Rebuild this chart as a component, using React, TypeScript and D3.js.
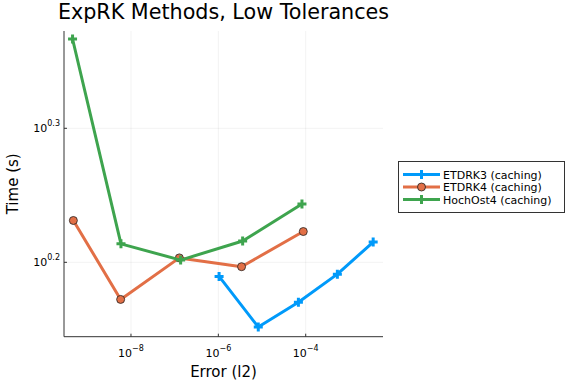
import React, { useRef, useEffect } from 'react';
import * as d3 from 'd3';

// error (l2) and time (s)
const etdrk3Err = [1.04e-6, 8.2e-6, 6.8e-5, 5.3e-4, 3.5e-3];
const etdrk3Time = [1.547, 1.418, 1.48, 1.553, 1.641];
const etdrk4Err = [4.8e-10, 5.8e-9, 1.28e-7, 3.4e-6, 8.8e-5];
const etdrk4Time = [1.703, 1.487, 1.597, 1.573, 1.671];
const hochErr = [4.6e-10, 5.9e-9, 1.37e-7, 3.6e-6, 8.2e-5];
const hochTime = [2.326, 1.636, 1.591, 1.644, 1.752];

const seriesNames = ['ETDRK3 (caching)', 'ETDRK4 (caching)', 'HochOst4 (caching)'];
const seriesColors = ['#009AFA', '#E26F46', '#3EA44E'];
const seriesMarkers = ['cross', 'circle', 'cross'];

const xTickExps = [-8, -6, -4];
const yTickExps = [0.2, 0.3];

const App: React.FC = () => {
  const ref = useRef<SVGSVGElement | null>(null);

  useEffect(() => {
    if (!ref.current) return;
    const svg = d3.select(ref.current);
    svg.selectAll('*').remove();

    const width = 576;
    const height = 384;
    const left = 64, right = 383, top = 31, bottom = 336.7;
    const font = 'DejaVu Sans, sans-serif';

    const x = d3.scaleLog().domain([Math.pow(10, -9.533), Math.pow(10, -2.231)]).range([left, right]);
    const y = d3.scaleLog().domain([Math.pow(10, 0.1445), Math.pow(10, 0.3726)]).range([bottom, top]);

    svg.attr('width', width).attr('height', height).style('font-family', font);
    svg.append('rect').attr('width', width).attr('height', height).attr('fill', '#fff');

    // grid
    const grid = svg.append('g').attr('stroke', '#000').attr('stroke-opacity', 0.1).attr('stroke-width', 0.5);
    xTickExps.forEach(e => {
      grid.append('line').attr('x1', x(Math.pow(10, e))).attr('x2', x(Math.pow(10, e)))
        .attr('y1', top).attr('y2', bottom);
    });
    yTickExps.forEach(e => {
      grid.append('line').attr('y1', y(Math.pow(10, e))).attr('y2', y(Math.pow(10, e)))
        .attr('x1', left).attr('x2', right);
    });

    // axes
    const ax = svg.append('g').attr('stroke', '#333').attr('stroke-width', 1);
    ax.append('line').attr('x1', left).attr('x2', right).attr('y1', bottom).attr('y2', bottom);
    ax.append('line').attr('x1', left).attr('x2', left).attr('y1', top).attr('y2', bottom);

    xTickExps.forEach(e => {
      const px = x(Math.pow(10, e));
      ax.append('line').attr('x1', px).attr('x2', px).attr('y1', bottom).attr('y2', bottom - 3);
      const t = svg.append('text').attr('x', px).attr('y', 356.5).attr('text-anchor', 'middle')
        .attr('font-size', 11).attr('fill', '#000');
      t.append('tspan').text('10');
      t.append('tspan').attr('dy', -6).attr('font-size', 8).text(`\u2212${-e}`);
    });
    yTickExps.forEach(e => {
      const py = y(Math.pow(10, e));
      ax.append('line').attr('x1', left).attr('x2', left + 3).attr('y1', py).attr('y2', py);
      const t = svg.append('text').attr('x', 60).attr('y', py + 4).attr('text-anchor', 'end')
        .attr('font-size', 11).attr('fill', '#000');
      t.append('tspan').text('10');
      t.append('tspan').attr('dy', -6).attr('font-size', 8).text(e.toFixed(1));
    });

    // labels
    svg.append('text').attr('x', 223.5).attr('y', 19).attr('text-anchor', 'middle')
      .attr('font-size', 20.7).text('ExpRK Methods, Low Tolerances');
    svg.append('text').attr('x', 223.5).attr('y', 377).attr('text-anchor', 'middle')
      .attr('font-size', 15).text('Error (l2)');
    svg.append('text').attr('transform', `translate(18,${(top + bottom) / 2}) rotate(-90)`)
      .attr('text-anchor', 'middle').attr('font-size', 15).text('Time (s)');

    const series = [
      { err: etdrk3Err, time: etdrk3Time },
      { err: etdrk4Err, time: etdrk4Time },
      { err: hochErr, time: hochTime },
    ];

    const line = d3.line<[number, number]>().x(d => x(d[0])).y(d => y(d[1]));

    const drawMarker = (g: d3.Selection<SVGGElement, unknown, null, undefined>, kind: string, cx: number, cy: number, color: string) => {
      if (kind === 'circle') {
        g.append('circle').attr('cx', cx).attr('cy', cy).attr('r', 4)
          .attr('fill', color).attr('stroke', '#222').attr('stroke-width', 0.8);
      } else {
        g.append('path').attr('d', `M${cx - 4.5},${cy}H${cx + 4.5}M${cx},${cy - 4.5}V${cy + 4.5}`)
          .attr('stroke', color).attr('stroke-width', 3);
      }
    };

    series.forEach((s, i) => {
      const pts = s.err.map((e, j) => [e, s.time[j]] as [number, number]);
      const g = svg.append('g');
      g.append('path').attr('d', line(pts) || '').attr('fill', 'none')
        .attr('stroke', seriesColors[i]).attr('stroke-width', 3).attr('stroke-linejoin', 'round');
      pts.forEach(p => drawMarker(g, seriesMarkers[i], x(p[0]), y(p[1]), seriesColors[i]));
    });

    // legend
    const lg = svg.append('g');
    lg.append('rect').attr('x', 398.5).attr('y', 161.5).attr('width', 166).attr('height', 51)
      .attr('fill', '#fff').attr('stroke', '#333').attr('stroke-width', 1);
    seriesNames.forEach((name, i) => {
      const ly = 174.5 + i * 12.5;
      lg.append('line').attr('x1', 403).attr('x2', 440).attr('y1', ly).attr('y2', ly)
        .attr('stroke', seriesColors[i]).attr('stroke-width', 3);
      drawMarker(lg, seriesMarkers[i], 421.5, ly, seriesColors[i]);
      lg.append('text').attr('x', 443).attr('y', ly + 4).attr('font-size', 11).text(name);
    });
  }, []);

  return <svg ref={ref} style={{ display: 'block', position: 'absolute', left: 0, top: 0 }} />;
};

export default App;
